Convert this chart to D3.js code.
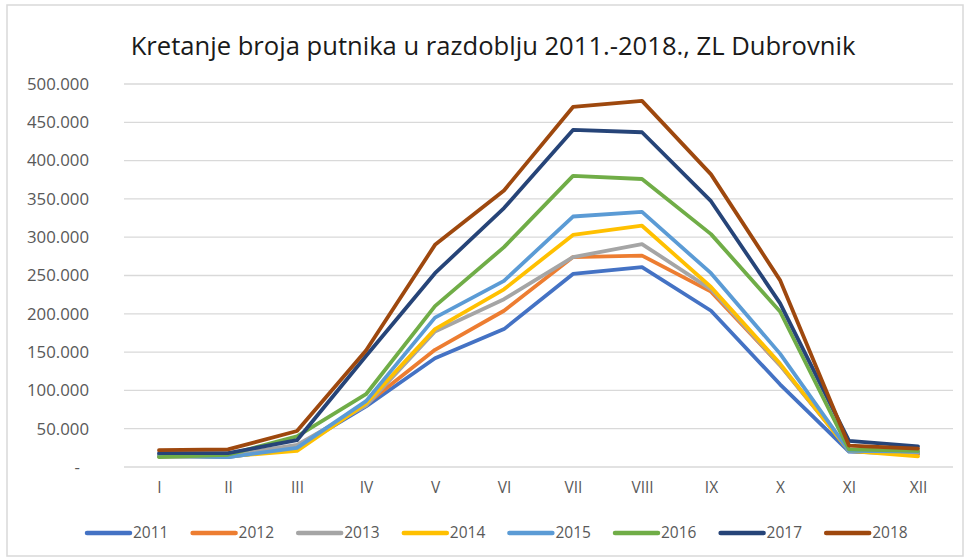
<!DOCTYPE html>
<html>
<head>
<meta charset="utf-8">
<script src="https://cdn.jsdelivr.net/npm/d3@7"></script>
<style>
  body { margin: 0; background: #fff; }
  svg { font-family: "Open Sans", "Noto Sans", sans-serif; }
</style>
</head>
<body>
<div id="chart"></div>
<script>
// Months (Roman numerals) and passengers per year
var months = ["I", "II", "III", "IV", "V", "VI", "VII", "VIII", "IX", "X", "XI", "XII"];
var years = ["2011", "2012", "2013", "2014", "2015", "2016", "2017", "2018"];

var y2011 = [16000, 13000, 25000, 79000, 142000, 180000, 252000, 261000, 204000, 108000, 20000, 17000];
var y2012 = [14000, 14000, 27000, 82000, 153000, 204000, 274000, 276000, 229000, 133000, 22000, 18000];
var y2013 = [15000, 15000, 29000, 80000, 177000, 219000, 274000, 291000, 232000, 133000, 22000, 19000];
var y2014 = [14000, 14000, 21000, 83000, 180000, 232000, 303000, 315000, 235000, 135000, 21000, 14000];
var y2015 = [14000, 13000, 25000, 86000, 195000, 243000, 327000, 333000, 253000, 148000, 21000, 20000];
var y2016 = [13000, 16000, 40000, 95000, 210000, 287000, 380000, 376000, 304000, 203000, 23000, 21000];
var y2017 = [18000, 18000, 35000, 145000, 253000, 338000, 440000, 437000, 347000, 214000, 34000, 27000];
var y2018 = [22000, 23000, 47000, 152000, 290000, 361000, 470000, 478000, 382000, 244000, 28000, 24000];

var yTicks = [0, 50000, 100000, 150000, 200000, 250000, 300000, 350000, 400000, 450000, 500000];
var colors = ["#4472C4", "#ED7D31", "#A5A5A5", "#FFC000", "#5B9BD5", "#70AD47", "#264478", "#9E480E"];

var series = [y2011, y2012, y2013, y2014, y2015, y2016, y2017, y2018];

var width = 966, height = 558;

var svg = d3.select("#chart")
    .append("svg")
    .attr("width", width)
    .attr("height", height);

// outer chart border
svg.append("rect")
    .attr("x", 7).attr("y", 5)
    .attr("width", 956).attr("height", 551)
    .attr("fill", "#fff")
    .attr("stroke", "#d9d9d9")
    .attr("stroke-width", 1.5);

// title
svg.append("text")
    .attr("x", 493).attr("y", 55)
    .attr("text-anchor", "middle")
    .attr("font-size", 25.6)
    .attr("fill", "#1a1a1a")
    .text("Kretanje broja putnika u razdoblju 2011.-2018., ZL Dubrovnik");

var x = d3.scalePoint()
    .domain(months)
    .range([159, 918]);

var y = d3.scaleLinear()
    .domain([0, 500000])
    .range([467, 84]);

// gridlines
svg.append("g")
    .selectAll("line")
    .data(yTicks)
    .enter()
    .append("line")
    .attr("x1", 124).attr("x2", 953)
    .attr("y1", function(d) { return y(d); })
    .attr("y2", function(d) { return y(d); })
    .attr("stroke", "#d9d9d9")
    .attr("stroke-width", 1.3);

// y axis labels
var fmt = function(d) {
    if (d === 0) return "-";
    return d3.format(",")(d).replace(/,/g, ".");
};
var yAxis = svg.append("g")
    .attr("transform", "translate(89,0)")
    .call(d3.axisLeft(y).tickValues(yTicks).tickFormat(fmt).tickSize(0).tickPadding(0));
yAxis.select(".domain").remove();
yAxis.selectAll("text")
    .attr("font-size", 16.8)
    .attr("font-family", "\"Open Sans\", sans-serif")
    .attr("fill", "#595959")
    .attr("dx", function(d) { return d === 0 ? -9 : 0; });

// x axis labels
var xAxis = svg.append("g")
    .attr("transform", "translate(0,482)")
    .call(d3.axisBottom(x).tickSize(0).tickPadding(0));
xAxis.select(".domain").remove();
xAxis.selectAll("text")
    .attr("font-size", 15.5)
    .attr("font-family", "\"Open Sans\", sans-serif")
    .attr("fill", "#595959");

// lines
var line = d3.line()
    .x(function(d, i) { return x(months[i]); })
    .y(function(d) { return y(d); });

svg.append("g")
    .selectAll("path")
    .data(series)
    .enter()
    .append("path")
    .attr("d", line)
    .attr("fill", "none")
    .attr("stroke", function(d, i) { return colors[i]; })
    .attr("stroke-width", 3.8)
    .attr("stroke-linejoin", "round")
    .attr("stroke-linecap", "round");

// legend
var legend = svg.append("g")
    .selectAll("g")
    .data(years)
    .enter()
    .append("g")
    .attr("transform", function(d, i) { return "translate(" + (87 + i * 105.6) + ",533)"; });

legend.append("line")
    .attr("x1", 0).attr("x2", 43)
    .attr("stroke", function(d, i) { return colors[i]; })
    .attr("stroke-width", 4.5)
    .attr("stroke-linecap", "round");

legend.append("text")
    .attr("x", 46).attr("dy", "0.35em")
    .attr("font-size", 15.5)
    .attr("fill", "#595959")
    .text(function(d) { return d; });
</script>
</body>
</html>
